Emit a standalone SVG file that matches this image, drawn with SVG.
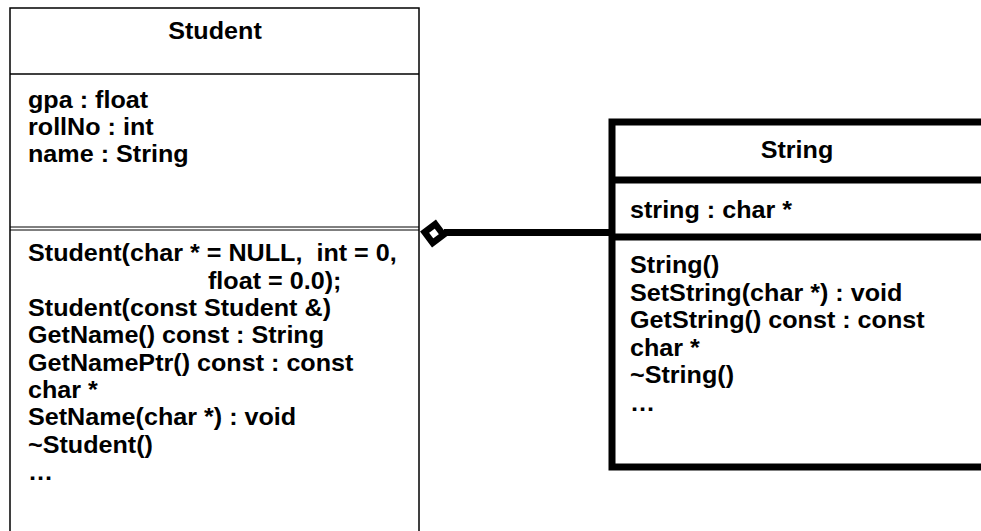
<svg xmlns="http://www.w3.org/2000/svg" width="981" height="531" viewBox="0 0 981 531">
<style>
text{font-family:"Liberation Sans",Arial,sans-serif;font-weight:bold;font-size:23.5px;fill:#000}
.mid{text-anchor:middle}
.thin{fill:none;stroke:#000;stroke-width:1.5}
.thick{fill:none;stroke:#000;stroke-width:7}
</style>
<rect width="981" height="531" fill="#fff"/>
<g id="student">
<rect class="thin" x="10" y="8" width="409" height="540" fill="#fff"/>
<line class="thin" x1="10" y1="74" x2="419" y2="74"/>
<line stroke="#000" stroke-width="1" x1="10" y1="227" x2="419" y2="227"/>
<line stroke="#000" stroke-width="1" x1="10" y1="230" x2="419" y2="230"/>
<text class="mid" transform="translate(215,39) scale(1.07,1)">Student</text>
<text transform="translate(28,107.5) scale(1.07,1)">gpa : float</text>
<text transform="translate(28,134.5) scale(1.07,1)">rollNo : int</text>
<text transform="translate(28,161.5) scale(1.07,1)">name : String</text>
<text transform="translate(28,261) scale(1.07,1)" xml:space="preserve">Student(char * = NULL,  int = 0,</text>
<text transform="translate(208,288.5) scale(1.07,1)">float = 0.0);</text>
<text transform="translate(28,316) scale(1.07,1)">Student(const Student &amp;)</text>
<text transform="translate(28,343) scale(1.07,1)">GetName() const : String</text>
<text transform="translate(28,370.5) scale(1.07,1)">GetNamePtr() const : const</text>
<text transform="translate(28,398) scale(1.07,1)">char *</text>
<text transform="translate(28,425) scale(1.07,1)">SetName(char *) : void</text>
<text transform="translate(28,452.5) scale(1.07,1)">~Student()</text>
<text transform="translate(28,480) scale(1.07,1)">…</text>
</g>
<g id="string">
<rect class="thick" x="612" y="122" width="420" height="345" fill="#fff"/>
<line class="thick" x1="612" y1="180" x2="990" y2="180"/>
<line class="thick" x1="612" y1="237" x2="990" y2="237"/>
<text class="mid" transform="translate(797,158) scale(1.07,1)">String</text>
<text transform="translate(630,218) scale(1.07,1)">string : char *</text>
<text transform="translate(630,273) scale(1.07,1)">String()</text>
<text transform="translate(630,300.5) scale(1.07,1)">SetString(char *) : void</text>
<text transform="translate(630,328) scale(1.07,1)">GetString() const : const</text>
<text transform="translate(630,355.5) scale(1.07,1)">char *</text>
<text transform="translate(630,383) scale(1.07,1)">~String()</text>
<text transform="translate(630,410.5) scale(1.07,1)">…</text>
</g>
<g id="connectors">
<line class="thick" x1="444" y1="232.5" x2="612" y2="232.5"/>
<polygon points="0,-9.5 9.5,0 0,9.5 -9.5,0" fill="#fff" stroke="#000" stroke-width="6.5" stroke-linejoin="miter" transform="translate(434,233.5) rotate(8)"/>
</g>
</svg>
